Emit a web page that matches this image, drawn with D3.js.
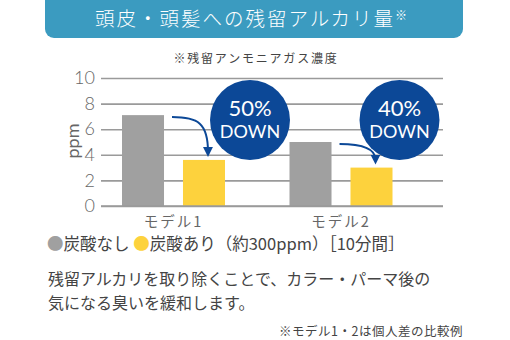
<!DOCTYPE html>
<html>
<head>
<meta charset="utf-8">
<script src="https://cdn.jsdelivr.net/npm/d3@7/dist/d3.min.js"></script>
<style>
  html, body { margin: 0; padding: 0; background: #fff; }
  svg { display: block; font-family: "Noto Sans CJK JP", "Noto Sans", sans-serif; }
</style>
</head>
<body>
<svg id="chart" width="510" height="340"></svg>
<script>
// Residual ammonia concentration (ppm) per model
const models = ["モデル1", "モデル2"];
const seriesNames = ["炭酸なし", "炭酸あり"];
const withoutCarbonic = [7.1, 5.0];
const withCarbonic = [3.6, 3.0];
const reductionLabels = ["50%", "40%"];
const yTicks = [0, 2, 4, 6, 8, 10];

const colors = { "炭酸なし": "#a0a0a0", "炭酸あり": "#fdd23d" };
const badgeColor = "#0c4897";
const latin = "Lato, 'Noto Sans', sans-serif";
// horizontal gap between each treated bar's right edge and its badge centre
const badgeDx = [25, 7];

const svg = d3.select("#chart");

// Title banner
svg.append("rect")
  .attr("x", 45).attr("y", -10).attr("width", 418).attr("height", 48)
  .attr("rx", 9).attr("fill", "#3b9bc0");
const title = svg.append("text")
  .attr("x", 252).attr("y", 26)
  .attr("text-anchor", "middle")
  .attr("fill", "#fff")
  .attr("font-size", 19.5)
  .attr("font-weight", 300)
  .attr("letter-spacing", 2)
  .text("頭皮・頭髪への残留アルカリ量");
title.append("tspan").attr("font-size", 12).attr("dy", -6).attr("dx", 0).text("※");

// Subtitle
svg.append("text")
  .attr("x", 256).attr("y", 63)
  .attr("text-anchor", "middle")
  .attr("fill", "#444")
  .attr("font-size", 12)
  .attr("letter-spacing", 1.8)
  .text("※残留アンモニアガス濃度");

// Scales
const y = d3.scaleLinear().domain([0, 10]).range([206, 78]);
const x0 = d3.scaleBand().domain(models).range([89.75, 424.75]);
const x1 = d3.scaleBand().domain(seriesNames).range([0, 103]).paddingInner(0.311);
const groupOffset = (x0.bandwidth() - 103) / 2;

// Grid lines and y axis labels
const yAxis = d3.axisLeft(y).tickValues(yTicks).tickSize(-342).tickPadding(6).tickFormat(d3.format("d"));
const yg = svg.append("g").attr("transform", "translate(101,0)").call(yAxis);
yg.select(".domain").remove();
yg.selectAll(".tick line").attr("stroke", "#9a9a9a").attr("stroke-width", 1.6);
yg.selectAll(".tick text")
  .attr("fill", "#666").attr("font-size", 18)
  .attr("font-family", latin).attr("font-weight", 300);

// y axis title
svg.append("text")
  .attr("transform", "translate(79,141) rotate(-90)")
  .attr("text-anchor", "middle")
  .attr("fill", "#666")
  .attr("font-size", 18)
  .attr("font-family", latin)
  .text("ppm");

// Bars
const rows = models.map((m, i) => ({
  model: m,
  values: [
    { key: seriesNames[0], value: withoutCarbonic[i] },
    { key: seriesNames[1], value: withCarbonic[i] }
  ]
}));
const groups = svg.append("g").selectAll("g").data(rows).join("g")
  .attr("transform", d => `translate(${x0(d.model) + groupOffset},0)`);
groups.selectAll("rect").data(d => d.values).join("rect")
  .attr("x", d => x1(d.key))
  .attr("width", x1.bandwidth())
  .attr("y", d => y(d.value))
  .attr("height", d => y(0) - y(d.value))
  .attr("fill", d => colors[d.key]);

// Redraw baseline over bars
svg.append("line")
  .attr("x1", 101).attr("x2", 443).attr("y1", y(0)).attr("y2", y(0))
  .attr("stroke", "#9a9a9a").attr("stroke-width", 1.6);

// Model labels
svg.append("g").selectAll("text").data(models).join("text")
  .attr("x", d => x0(d) + x0.bandwidth() / 2)
  .attr("y", 227)
  .attr("text-anchor", "middle")
  .attr("fill", "#666")
  .attr("font-size", 14.5)
  .attr("letter-spacing", 2)
  .text(d => d);

// Curved arrows from each untreated bar down to the treated bar
const defs = svg.append("defs");
defs.append("marker")
  .attr("id", "head")
  .attr("viewBox", "0 0 10 10")
  .attr("refX", 5).attr("refY", 5)
  .attr("markerWidth", 10).attr("markerHeight", 10)
  .attr("markerUnits", "userSpaceOnUse")
  .attr("orient", "auto")
  .append("path").attr("d", "M0,0 L10,5 L0,10 Z").attr("fill", badgeColor);

rows.forEach((r, i) => {
  const gx = x0(r.model) + groupOffset;
  const sx = gx + x1(seriesNames[0]) + x1.bandwidth() + 8;
  const sy = y(r.values[0].value) + 2;
  const ex = gx + x1(seriesNames[1]) + x1.bandwidth() / 2 + 4;
  const ey = y(r.values[1].value) - 8;
  svg.append("path")
    .attr("d", `M${sx},${sy} C${ex - 10},${sy} ${ex},${sy + 6} ${ex},${ey}`)
    .attr("fill", "none")
    .attr("stroke", badgeColor)
    .attr("stroke-width", 2)
    .attr("marker-end", "url(#head)");

  // Reduction badge
  const cx = gx + x1(seriesNames[1]) + x1.bandwidth() + badgeDx[i];
  const cy = 120;
  svg.append("circle").attr("cx", cx).attr("cy", cy).attr("r", 40).attr("fill", badgeColor);
  svg.append("text")
    .attr("x", cx).attr("y", cy - 4)
    .attr("text-anchor", "middle").attr("fill", "#fff")
    .attr("font-size", 22)
    .attr("font-family", latin)
    .text(reductionLabels[i]);
  svg.append("text")
    .attr("x", cx).attr("y", cy + 18)
    .attr("text-anchor", "middle").attr("fill", "#fff")
    .attr("font-size", 18)
    .attr("font-family", latin)
    .text("DOWN");
});

// Legend
const legend = svg.append("text")
  .attr("x", 47).attr("y", 250)
  .attr("fill", "#444")
  .attr("font-size", 16.5);
legend.append("tspan").attr("fill", colors["炭酸なし"]).text("●");
legend.append("tspan").text("炭酸なし ");
legend.append("tspan").attr("fill", colors["炭酸あり"]).text("●");
legend.append("tspan").text("炭酸あり（約300ppm）［10分間］");

// Description
const desc = ["残留アルカリを取り除くことで、カラー・パーマ後の", "気になる臭いを緩和します。"];
svg.append("g").selectAll("text").data(desc).join("text")
  .attr("x", 48).attr("y", (d, i) => 285 + i * 24)
  .attr("fill", "#444")
  .attr("font-size", 16)
  .text(d => d);

// Footnote
svg.append("text")
  .attr("x", 463).attr("y", 336)
  .attr("text-anchor", "end")
  .attr("fill", "#444")
  .attr("font-size", 12.5)
  .attr("letter-spacing", 0.5)
  .text("※モデル1・2は個人差の比較例");
</script>
</body>
</html>
